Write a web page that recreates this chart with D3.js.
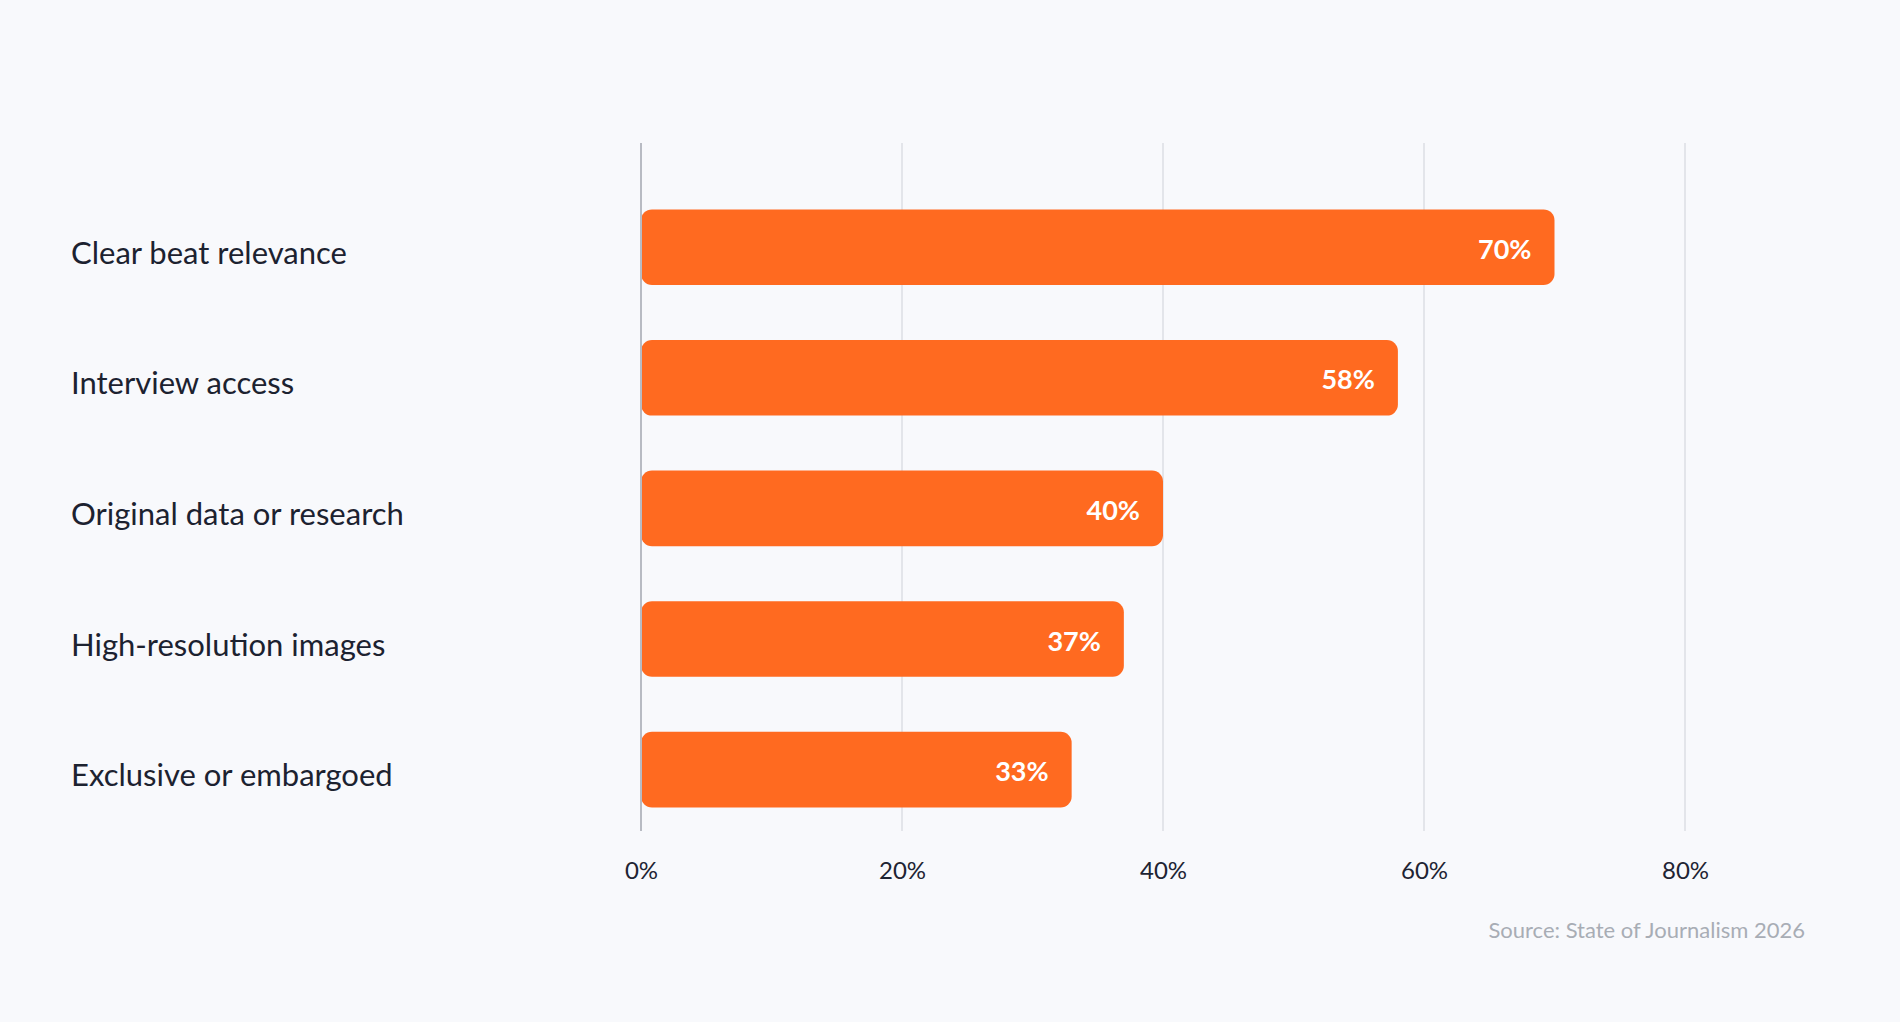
<!DOCTYPE html>
<html><head><meta charset="utf-8">
<script src="https://cdn.jsdelivr.net/npm/d3@7"></script>
<style>
html,body{margin:0;padding:0;background:#f8f9fc;}
svg{display:block;font-family:Lato,"Noto Sans",sans-serif;}
</style></head>
<body>
<svg id="chart" width="1900" height="1022"></svg>
<script>
const categories = ["Clear beat relevance","Interview access","Original data or research","High-resolution images","Exclusive or embargoed"];
const values = [70, 58, 40, 37, 33];
const tickValues = [0, 20, 40, 60, 80];
const sourceText = "Source: State of Journalism 2026";

const svg = d3.select("#chart");
svg.append("rect").attr("width",1900).attr("height",1022).attr("fill","#f8f9fc");

const x = d3.scaleLinear().domain([0, 80]).range([641, 1685]);
const y = d3.scaleBand().domain(categories).range([154.4, 862.4]).padding(0.421);
const gridTop = 143, gridBottom = 831;

// grid
svg.append("g").selectAll("line").data(tickValues.filter(d=>d>0)).join("line")
  .attr("x1",d=>x(d)).attr("x2",d=>x(d)).attr("y1",gridTop).attr("y2",gridBottom)
  .attr("stroke","#e3e5ea").attr("stroke-width",2);

// axis tick labels
const xAxis = d3.axisBottom(x).tickValues(tickValues).tickFormat(d=>d+"%").tickSize(0).tickPadding(0);
const gx = svg.append("g").attr("transform",`translate(0,${gridBottom})`).call(xAxis);
gx.select(".domain").remove();
gx.selectAll("text").attr("font-size",24).attr("fill","#1e2433").attr("font-family","Lato")
  .attr("dy",null).attr("y",48);

// bars
svg.append("g").selectAll("rect").data(values).join("rect")
  .attr("x",x(0)).attr("y",(d,i)=>y(categories[i]))
  .attr("width",d=>x(d)-x(0)).attr("height",y.bandwidth())
  .attr("rx",11).attr("ry",11).attr("fill","#ff6a20");

// zero axis line
svg.append("line").attr("x1",x(0)).attr("x2",x(0)).attr("y1",gridTop).attr("y2",gridBottom)
  .attr("stroke","#b8bbc3").attr("stroke-width",2);

// value labels
svg.append("g").selectAll("text").data(values).join("text")
  .attr("x",d=>x(d)-23).attr("y",(d,i)=>y(categories[i])+y.bandwidth()/2+11.5)
  .attr("text-anchor","end").attr("font-size",27).attr("font-weight",700)
  .attr("fill","#ffffff").text(d=>d+"%");

// category labels
svg.append("g").selectAll("text").data(categories).join("text")
  .attr("x",71).attr("y",d=>y(d)+y.bandwidth()/2+16.5)
  .attr("font-size",31).attr("fill","#1c2230").text(d=>d);

// source
svg.append("text").attr("x",1805).attr("y",938).attr("text-anchor","end")
  .attr("font-size",22).attr("fill","#a8adb5").text(sourceText);
</script>
</body></html>
